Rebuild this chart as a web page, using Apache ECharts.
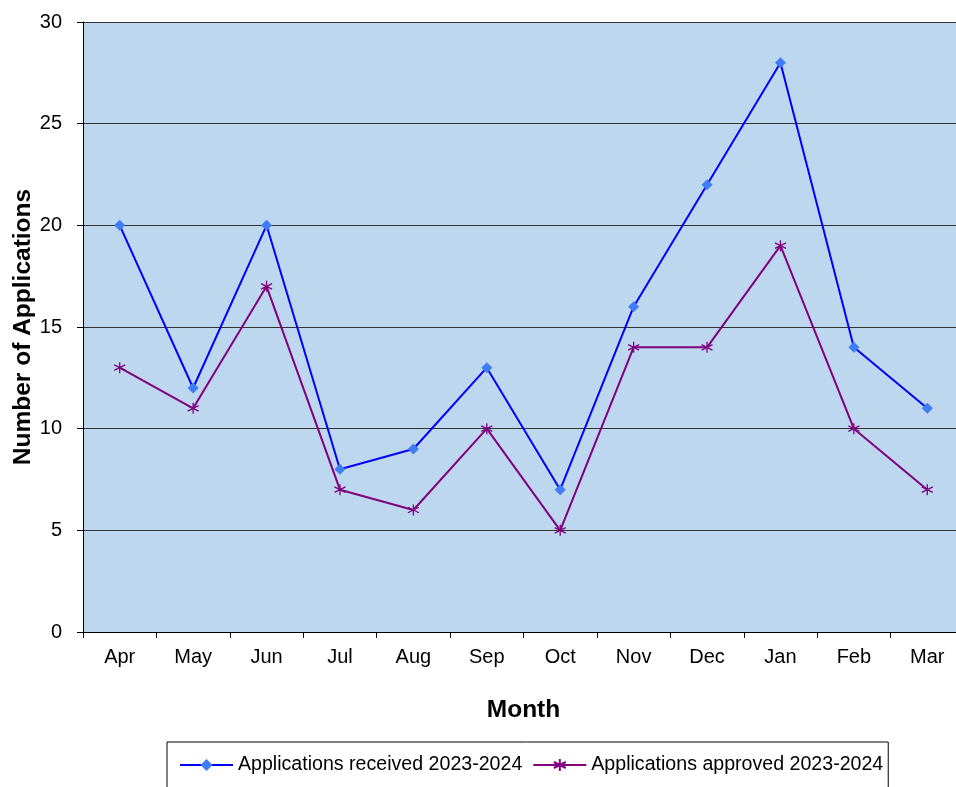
<!DOCTYPE html>
<html><head><meta charset="utf-8">
<script src="https://cdn.jsdelivr.net/npm/echarts@6/dist/echarts.min.js"></script>
<style>html,body{margin:0;padding:0;background:#fff}#c{width:956px;height:787px}</style>
</head><body><div id="c"></div>
<script>
const months = ['Apr','May','Jun','Jul','Aug','Sep','Oct','Nov','Dec','Jan','Feb','Mar'];
const received = [20,12,20,8,9,13,7,16,22,28,14,11];
const approved = [13,11,17,7,6,10,5,14,14,19,10,7];
const seriesNames = ['Applications received 2023-2024','Applications approved 2023-2024'];
const font = 'Liberation Sans, Arial, sans-serif';
const star = 'path://M0,-5L0,5M-4.33,-2.5L4.33,2.5M-4.33,2.5L4.33,-2.5';
const chart = echarts.init(document.getElementById('c'));
chart.setOption({
  animation:false,
  textStyle:{fontFamily:font},
  grid:{left:83,top:22,width:881,height:610,show:true,backgroundColor:'#BDD7EE',borderWidth:0,containLabel:false,outerBoundsMode:'none'},
  legend:{left:167,top:742,padding:[13,5,30,12],borderColor:'#000',borderWidth:1,itemGap:10,itemWidth:53,itemHeight:15,
    textStyle:{fontSize:19.6,color:'#000',fontFamily:font},
    data:[{name:seriesNames[0]},{name:seriesNames[1]}]},
  xAxis:{type:'category',data:months,boundaryGap:true,
    name:'Month',nameLocation:'middle',nameGap:66,nameMoveOverlap:false,
    nameTextStyle:{fontSize:24.5,fontWeight:'bold',color:'#000',fontFamily:font},
    axisLine:{show:true,lineStyle:{color:'#000',width:1}},
    axisTick:{show:true,alignWithLabel:false,length:6,lineStyle:{color:'#000'}},
    axisLabel:{fontSize:20,color:'#000',margin:15,interval:0}},
  yAxis:{type:'value',min:0,max:30,interval:5,
    name:'Number of Applications',nameLocation:'middle',nameGap:47,nameMoveOverlap:false,
    nameTextStyle:{fontSize:24.5,fontWeight:'bold',color:'#000',fontFamily:font},
    axisLine:{show:true,lineStyle:{color:'#000',width:1}},
    axisTick:{show:true,length:6,lineStyle:{color:'#000'}},
    axisLabel:{fontSize:20,color:'#000',margin:21},
    splitLine:{show:true,lineStyle:{color:'#333',width:1}}},
  series:[
    {name:seriesNames[0],type:'line',data:received,symbol:'diamond',symbolSize:11,
      lineStyle:{color:'#0000FF',width:2},itemStyle:{color:'#3F7CF5'}},
    {name:seriesNames[1],type:'line',data:approved,symbol:star,symbolSize:11,
      lineStyle:{color:'#800080',width:2},itemStyle:{color:'#800080',borderColor:'#800080',borderWidth:1.3}}
  ]
});
</script></body></html>
